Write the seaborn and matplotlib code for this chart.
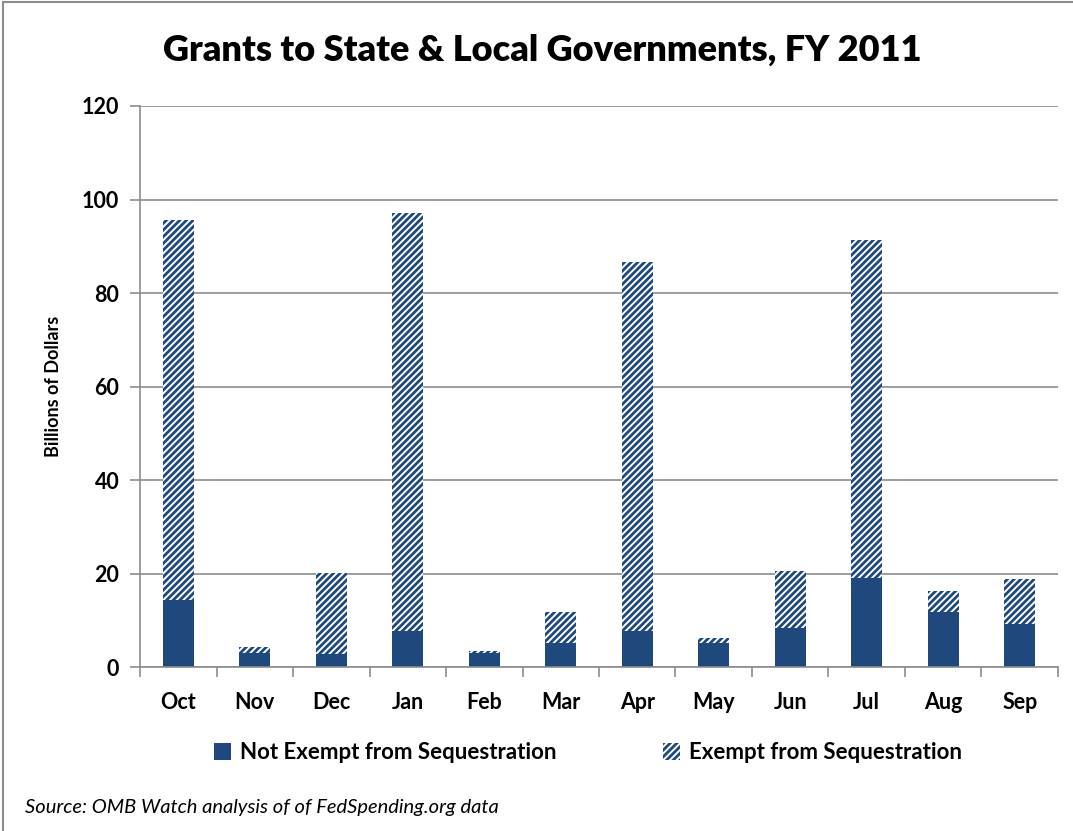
import seaborn as sns
import pandas as pd
import numpy as np
from matplotlib import pyplot as plt
from matplotlib.patches import Patch, Rectangle

months = ['Oct', 'Nov', 'Dec', 'Jan', 'Feb', 'Mar', 'Apr', 'May', 'Jun', 'Jul', 'Aug', 'Sep']
not_exempt = [14.3, 3.0, 2.8, 7.7, 3.0, 5.1, 7.7, 5.1, 8.3, 19.0, 11.8, 9.2]
exempt = [81.3, 1.3, 17.3, 89.4, 0.4, 6.7, 78.9, 1.1, 12.2, 72.3, 4.5, 9.6]

blue = '#1F497D'

df = pd.DataFrame({'month': months, 'not_exempt': not_exempt, 'exempt': exempt})
df['total'] = df.not_exempt + df.exempt

sns.set_style('white')
plt.rcParams['font.family'] = ['Lato', 'DejaVu Sans']
plt.rcParams['text.color'] = 'black'
plt.rcParams['xtick.color'] = 'black'
plt.rcParams['ytick.color'] = 'black'
plt.rcParams['axes.labelcolor'] = 'black'
plt.rcParams['hatch.color'] = blue
plt.rcParams['hatch.linewidth'] = 2.0

fig = plt.figure(figsize=(10.73, 8.31), dpi=100)
ax = fig.add_axes([0.1305, 0.197, 0.8555, 0.6755])

# Exempt part (drawn as total, hatched)
sns.barplot(data=df, x='month', y='total', color='white', width=0.41,
            edgecolor=blue, linewidth=0, hatch='/////', ax=ax, errorbar=None)
# Not exempt part (solid)
sns.barplot(data=df, x='month', y='not_exempt', color=blue, width=0.41,
            linewidth=0, saturation=1, ax=ax, errorbar=None)

ax.set_ylim(0, 120)
ax.set_xlim(-0.5, 11.5)
ax.set_yticks(range(0, 121, 20))
ax.yaxis.grid(True, color='#8c8c8c', linewidth=1.2)
ax.set_axisbelow(True)

for s in ['top', 'right']:
    ax.spines[s].set_visible(False)
for s in ['left', 'bottom']:
    ax.spines[s].set_color('#8c8c8c')
    ax.spines[s].set_linewidth(1.2)

# ticks between categories on x
ax.set_xticks(np.arange(-0.5, 12, 1), minor=True)
ax.tick_params(axis='x', which='major', length=0, pad=18, labelsize=15.5)
ax.tick_params(axis='x', which='minor', length=7, color='#8c8c8c', width=1.2, direction='out', bottom=True)
ax.tick_params(axis='y', length=7, color='#8c8c8c', width=1.2, direction='out', left=True,
               labelsize=15.5, pad=8, labelcolor='black')
for lab in ax.get_xticklabels() + ax.get_yticklabels():
    lab.set_fontweight('bold')

ax.set_xlabel('')
ax.set_ylabel('Billions of Dollars', fontsize=13, fontweight='bold', labelpad=14)

fig.text(0.505, 0.94, 'Grants to State & Local Governments, FY 2011', ha='center', va='center',
         fontsize=26, fontweight='heavy')

handles = [Patch(facecolor=blue, edgecolor=blue, linewidth=0),
           Patch(facecolor='white', edgecolor=blue, linewidth=0, hatch='/////')]
fig.legend(handles, ['Not Exempt from Sequestration', 'Exempt from Sequestration'],
           loc='center', bbox_to_anchor=(0.548, 0.094), ncol=2, frameon=False,
           prop={'weight': 'bold', 'size': 16}, handlelength=0.75, handleheight=0.75,
           handletextpad=0.4, columnspacing=4.8)

fig.text(0.023, 0.028, 'Source: OMB Watch analysis of of FedSpending.org data', ha='left', va='center',
         fontsize=14.5, fontstyle='italic')

# frame around the whole chart
fig.patches.append(Rectangle((0.003, -0.01), 1.2, 1.008, transform=fig.transFigure,
                             fill=False, edgecolor='#8c8c8c', linewidth=1.5))

fig.savefig('out.png', dpi=100)
